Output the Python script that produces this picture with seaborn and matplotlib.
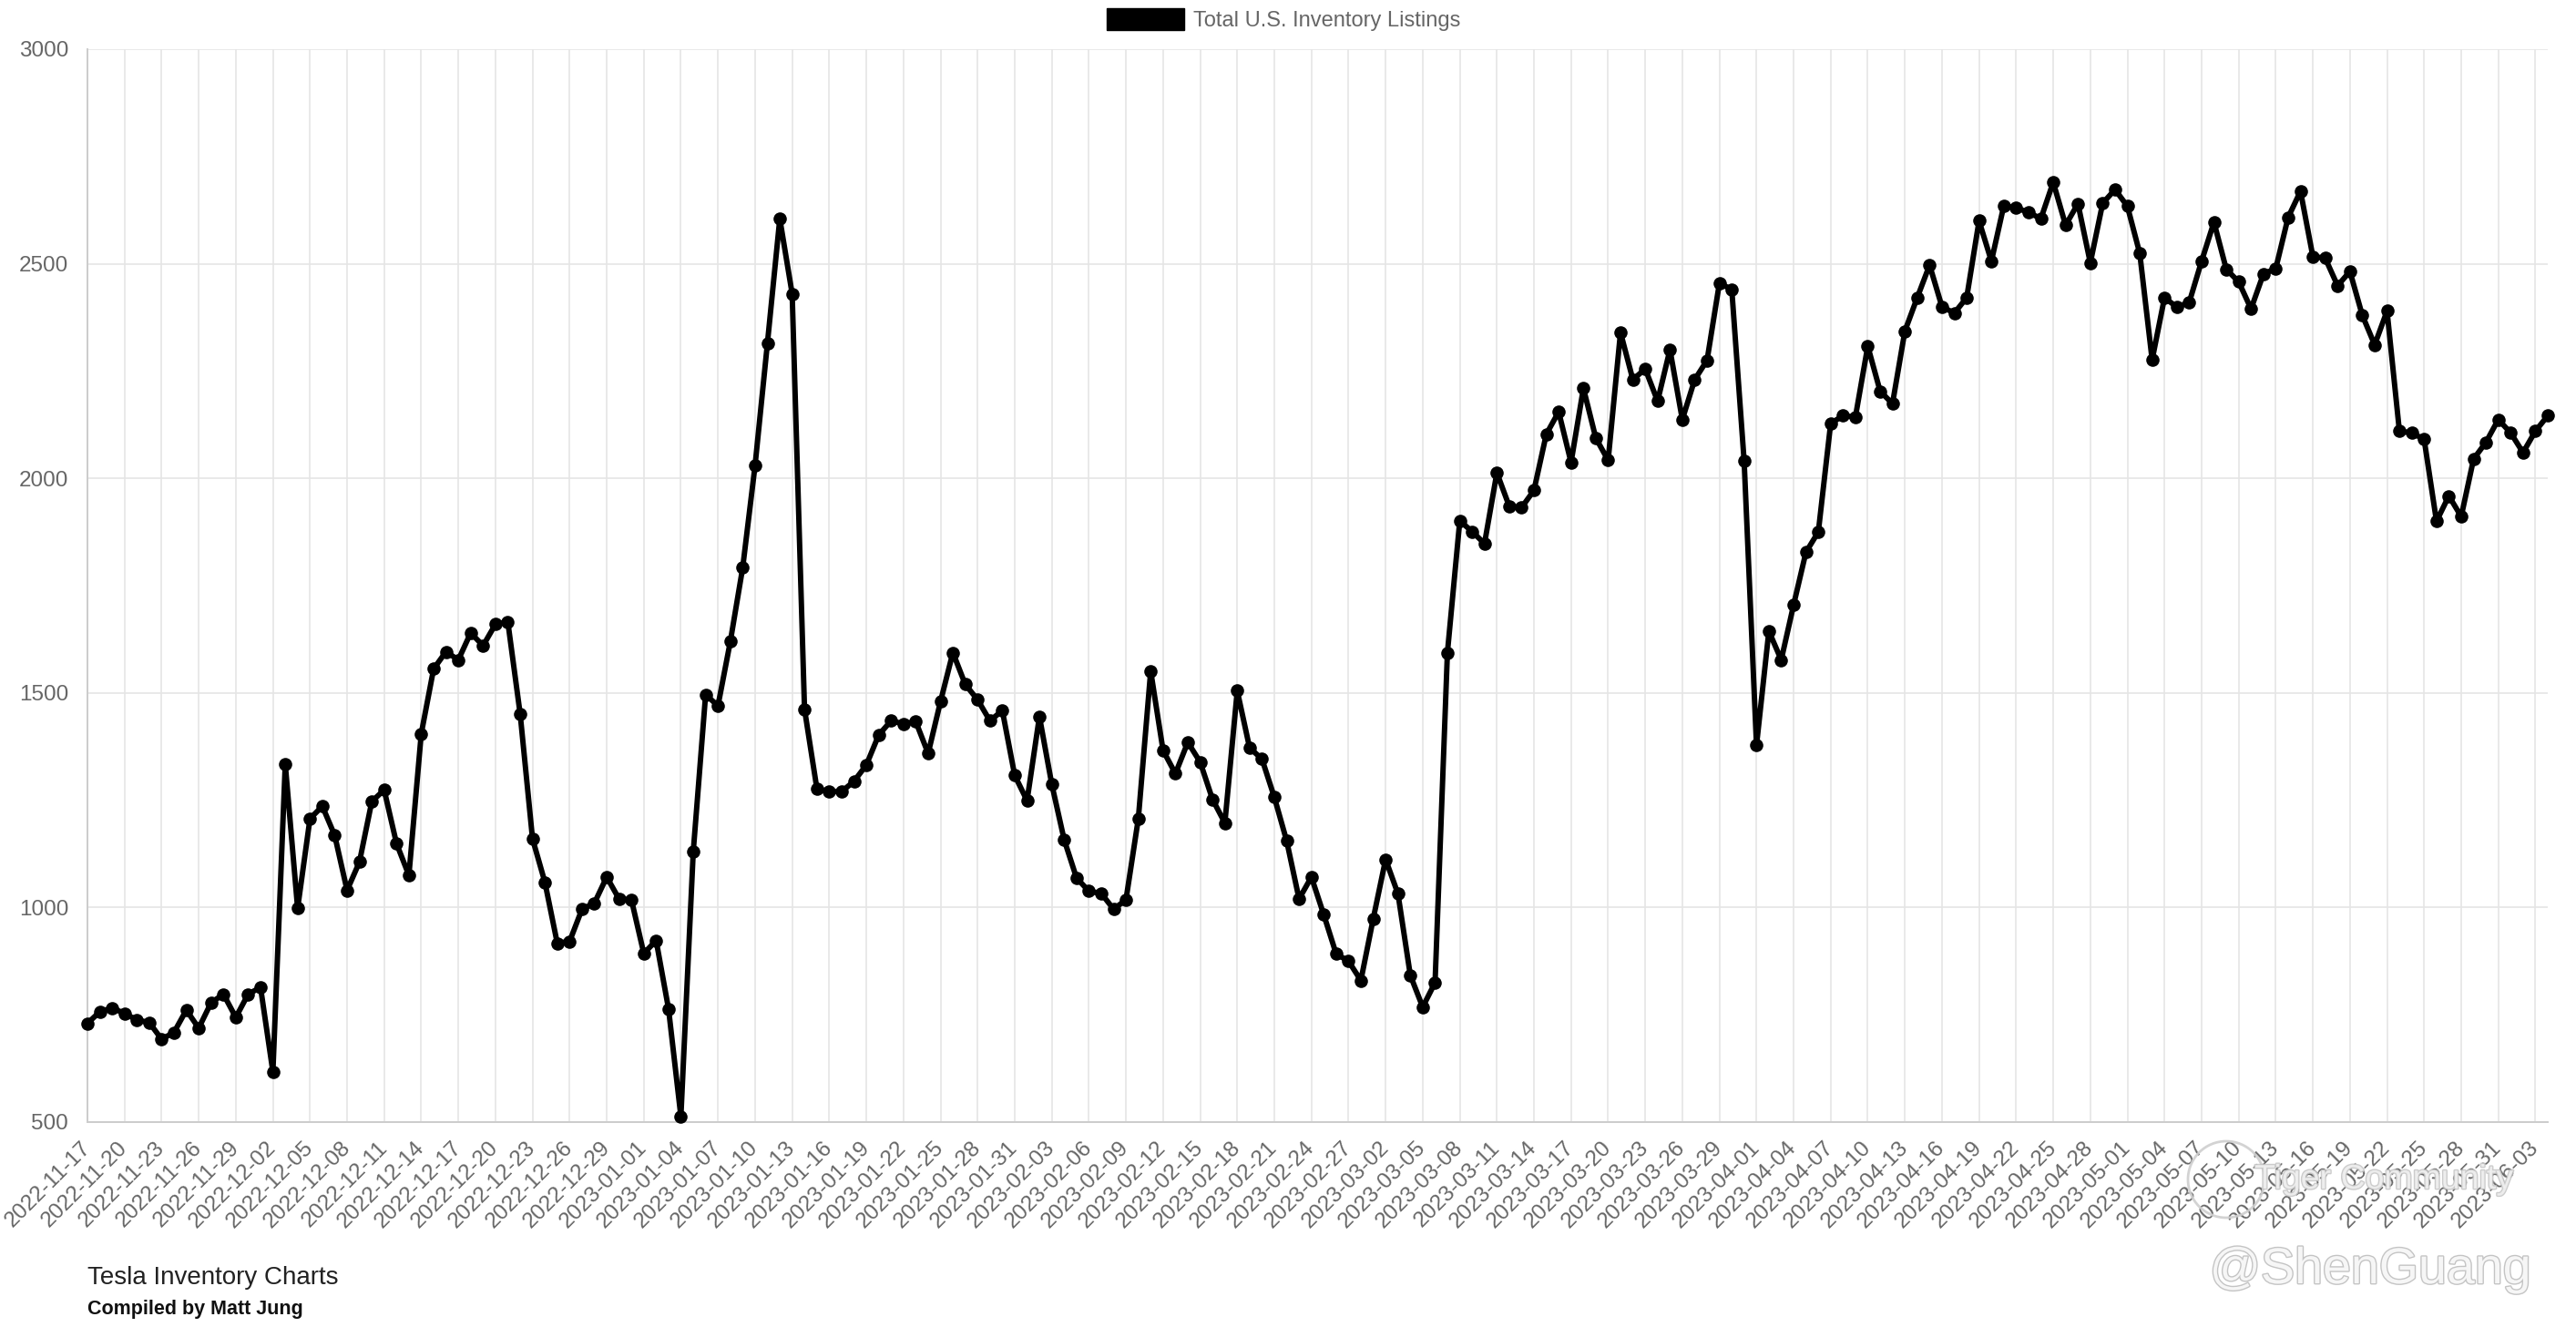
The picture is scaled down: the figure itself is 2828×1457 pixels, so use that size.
import numpy as np
import pandas as pd
import matplotlib
matplotlib.use("Agg")
import matplotlib.pyplot as plt
import matplotlib.patheffects as pe
from matplotlib.patches import Patch, Ellipse
import seaborn as sns

# daily total listings, 2022-11-17 .. 2023-06-04
START_DATE = "2022-11-17"
listings = [
    730, 757, 766, 753, 738, 732, 693, 709, 761, 719,
    778, 798, 744, 798, 814, 617, 1334, 998, 1207, 1236,
    1168, 1040, 1106, 1247, 1274, 1149, 1075, 1405, 1556, 1596,
    1577, 1640, 1610, 1660, 1666, 1451, 1160, 1059, 917, 921,
    996, 1010, 1071, 1020, 1018, 893, 923, 764, 513, 1130,
    1496, 1470, 1620, 1792, 2030, 2315, 2605, 2430, 1462, 1277,
    1270, 1270, 1294, 1332, 1402, 1435, 1428, 1433, 1359, 1480,
    1594, 1520, 1484, 1435, 1459, 1308, 1249, 1445, 1287, 1158,
    1069, 1038, 1033, 996, 1018, 1207, 1551, 1366, 1312, 1385,
    1339, 1252, 1197, 1505, 1372, 1346, 1257, 1155, 1020, 1071,
    983, 892, 875, 830, 974, 1112, 1032, 842, 768, 825,
    1594, 1901, 1876, 1848, 2013, 1935, 1932, 1972, 2103, 2155,
    2037, 2210, 2094, 2042, 2340, 2230, 2255, 2180, 2300, 2137,
    2230, 2275, 2455, 2440, 2040, 1378, 1644, 1577, 1705, 1828,
    1875, 2128, 2146, 2143, 2308, 2203, 2174, 2343, 2421, 2497,
    2400, 2385, 2421, 2600, 2506, 2635, 2630, 2620, 2605, 2690,
    2590, 2640, 2502, 2641, 2673, 2634, 2524, 2276, 2421, 2399,
    2410, 2506, 2597, 2487, 2458, 2395, 2476, 2489, 2608, 2669,
    2517, 2513, 2449, 2482, 2380, 2311, 2390, 2110, 2106, 2091,
    1900, 1959, 1911, 2045, 2084, 2137, 2106, 2060, 2110, 2146,
]
y_ticks = [500, 1000, 1500, 2000, 2500, 3000]
LABEL_STEP = 3

dates = pd.date_range(START_DATE, periods=len(listings), freq="D")
df = pd.DataFrame({"idx": np.arange(len(listings)), "date": dates, "listings": listings})

GRID = "#e5e5e5"
AXIS = "#cccccc"
TICK_TXT = "#666666"

sns.set_theme(style="white")
plt.rcParams["font.family"] = ["Liberation Sans", "DejaVu Sans"]

fig = plt.figure(figsize=(28.28, 14.57), dpi=100)
ax = fig.add_axes([96 / 2828, 1 - 1232 / 1457, (2797 - 96) / 2828, (1232 - 54) / 1457])

sns.lineplot(data=df, x="idx", y="listings", ax=ax, color="black", linewidth=4.3,
             marker="o", markersize=10.5, markeredgewidth=0, legend=False, clip_on=False, zorder=5)

ax.set_xlim(0, len(listings) - 1)
ax.set_ylim(500, 3000)
ax.set_yticks(y_ticks)
ax.set_yticklabels([str(v) for v in y_ticks])
xt = df["idx"][::LABEL_STEP]
ax.set_xticks(xt)
ax.set_xticklabels(df["date"][::LABEL_STEP].dt.strftime("%Y-%m-%d"),
                   rotation=45, ha="right", va="center", rotation_mode="anchor")
ax.set_xlabel("")
ax.set_ylabel("")

ax.grid(True, color=GRID, linewidth=1.2)
ax.tick_params(axis="both", length=12, width=1.2, color=GRID, labelsize=17.5,
               labelcolor=TICK_TXT, pad=3, direction="out")
ax.tick_params(axis="x", pad=6)
for side in ["top", "right"]:
    ax.spines[side].set_visible(False)
for side in ["left", "bottom"]:
    ax.spines[side].set_color(AXIS)
    ax.spines[side].set_linewidth(1.4)

# legend on top
fig.legend(handles=[Patch(facecolor="black", edgecolor="black")],
           labels=["Total U.S. Inventory Listings"],
           loc="center", bbox_to_anchor=(1409 / 2828, 1 - 21.5 / 1457),
           frameon=False, fontsize=17, labelcolor=TICK_TXT,
           handlelength=3.6, handleheight=1.2, handletextpad=0.45, borderpad=0)

# footer
fig.text(96 / 2828, 1 - 1403 / 1457, "Tesla Inventory Charts",
         fontsize=20, color="#222222", ha="left", va="center")
fig.text(96 / 2828, 1 - 1438 / 1457, "Compiled by Matt Jung",
         fontsize=15.5, color="#111111", ha="left", va="center", fontweight="bold")

# watermark
wm_fx = [pe.withStroke(linewidth=2, foreground="#c4c4c4")]
fig.text(2778 / 2828, 1 - 1395 / 1457, "@ShenGuang", fontsize=40,
         color="#f6f6f6", ha="right", va="center", path_effects=wm_fx, zorder=10)
fig.text(2475 / 2828, 1 - 1295 / 1457, "Tiger Community", fontsize=27,
         color="#f2f2f2", ha="left", va="center", alpha=0.85, path_effects=wm_fx, zorder=10)
fig.add_artist(Ellipse((2444 / 2828, 1 - 1295 / 1457), 84 / 2828, 84 / 1457,
                       transform=fig.transFigure, fill=False, edgecolor="#cfcfcf",
                       linewidth=2, alpha=0.9, zorder=10))

fig.savefig("out.png", dpi=100)
